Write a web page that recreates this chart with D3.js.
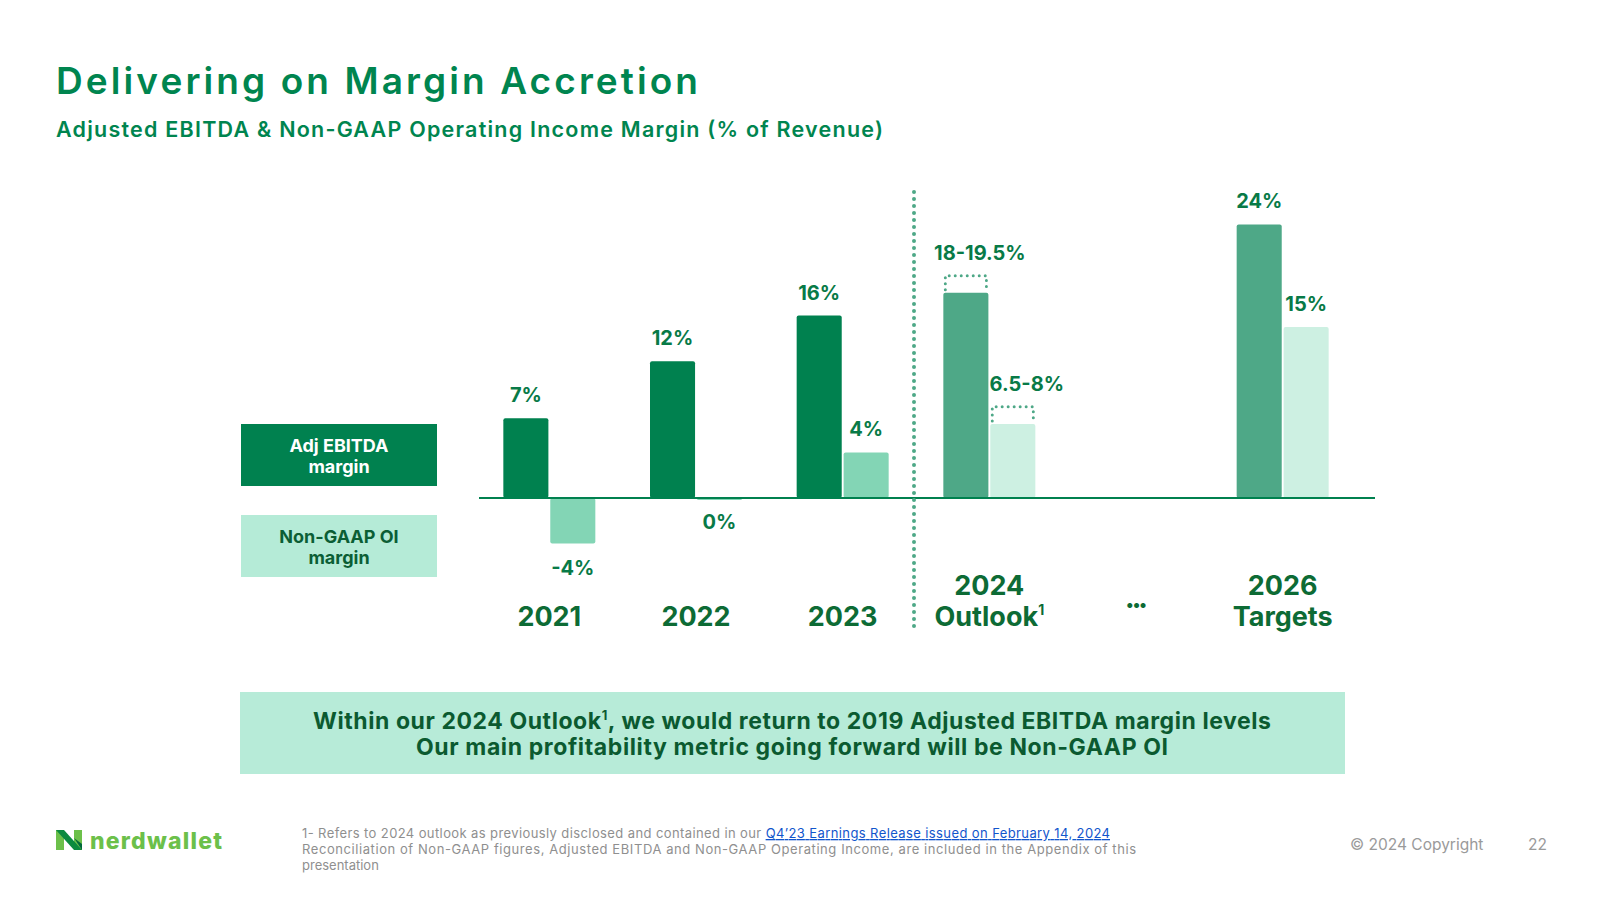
<!DOCTYPE html>
<html>
<head>
<meta charset="utf-8">
<script src="https://cdn.jsdelivr.net/npm/d3@7"></script>
<style>
  body { margin: 0; background: #fff; }
  svg { display: block; font-family: Inter, "Open Sans", sans-serif; }
</style>
</head>
<body>
<svg id="chart" width="1600" height="900"></svg>
<script>
// chart data
const categories = ["2021", "2022", "2023", "2024", "gap", "2026"]
const catLines = [["2021"], ["2022"], ["2023"], ["2024", "Outlook"], ["•••"], ["2026", "Targets"]]
const isOutlook = [false, false, false, true, false, true]
const ebitda = [7, 12, 16, 18, null, 24]
const ebitdaHigh = [null, null, null, 19.5, null, null]
const ebitdaLabels = ["7%", "12%", "16%", "18-19.5%", "", "24%"]
const oi = [-4, 0, 4, 6.5, null, 15]
const oiHigh = [null, null, null, 8, null, null]
const oiLabels = ["-4%", "0%", "4%", "6.5-8%", "", "15%"]
const seriesNames = ["Adj EBITDA margin", "Non-GAAP OI margin"]

const DARK = "#00814f", MINT = "#83d5b5", MID = "#4ea887", PALE = "#cdf0e2"
const LABEL = "#087a47", YEAR = "#0d6b35"

const svg = d3.select("#chart")

// header
svg.append("text").attr("x", 56).attr("y", 94)
    .attr("font-size", 37).attr("font-weight", 600).attr("fill", "#00854f")
    .attr("textLength", 642).attr("lengthAdjust", "spacing")
    .text("Delivering on Margin Accretion")
svg.append("text").attr("x", 56).attr("y", 137)
    .attr("font-size", 21.5).attr("font-weight", 600).attr("fill", "#00854f")
    .attr("textLength", 827).attr("lengthAdjust", "spacing")
    .text("Adjusted EBITDA & Non-GAAP Operating Income Margin (% of Revenue)")

// scales
const x0 = d3.scaleBand().domain(categories).range([476, 1356])
const y = d3.scaleLinear().domain([-5, 25]).range([555, 213])

// rows: one per bar
const rows = []
categories.forEach((c, i) => {
    if (ebitda[i] === null) return
    const cx = x0(c) + x0.bandwidth() / 2
    const x1 = d3.scaleBand().domain(seriesNames).range([cx - 46, cx + 46]).paddingInner(0.04)
    rows.push({ cat: c, x: x1(seriesNames[0]), w: x1.bandwidth(), v: ebitda[i], hi: ebitdaHigh[i],
        label: ebitdaLabels[i], fill: isOutlook[i] ? MID : DARK })
    rows.push({ cat: c, x: x1(seriesNames[1]), w: x1.bandwidth(), v: oi[i], hi: oiHigh[i],
        label: oiLabels[i], fill: isOutlook[i] ? PALE : MINT })
})

// bars
svg.append("g").selectAll("rect")
    .data(rows)
    .enter().append("rect")
    .attr("x", d => d.x)
    .attr("y", d => Math.min(y(d.v), y(0)))
    .attr("width", d => d.w)
    .attr("height", d => Math.max(2, Math.abs(y(d.v) - y(0))))
    .attr("rx", 2)
    .attr("fill", d => d.fill)

// dotted range boxes
svg.append("g").selectAll("path")
    .data(rows.filter(d => d.hi !== null))
    .enter().append("path")
    .attr("d", d => `M${d.x + 2},${y(d.v) - 3}V${y(d.hi)}H${d.x + d.w - 2}V${y(d.v) - 3}`)
    .attr("fill", "none")
    .attr("stroke", MID)
    .attr("stroke-width", 3)
    .attr("stroke-linecap", "round")
    .attr("stroke-dasharray", "0 6")

// baseline
svg.append("line")
    .attr("x1", 479).attr("x2", 1375)
    .attr("y1", y(0)).attr("y2", y(0))
    .attr("stroke", DARK).attr("stroke-width", 2)

// value labels
svg.append("g").selectAll("text")
    .data(rows)
    .enter().append("text")
    .attr("x", d => d.x + d.w / 2 + (d.hi !== null ? 14 : 0))
    .attr("y", d => d.v > 0 ? y(d.hi !== null ? d.hi : d.v) - 16 : y(Math.min(d.v, 0)) + 31)
    .attr("text-anchor", "middle")
    .attr("font-size", 20).attr("font-weight", 700).attr("fill", LABEL)
    .text(d => d.label)

// separator between actuals and outlook
svg.append("line")
    .attr("x1", x0("2024") - 2).attr("x2", x0("2024") - 2)
    .attr("y1", 192).attr("y2", 633)
    .attr("stroke", MID).attr("stroke-width", 4)
    .attr("stroke-linecap", "round")
    .attr("stroke-dasharray", "0 7")

// category labels, last line on a common baseline
const cat = svg.append("g").selectAll("text")
    .data(categories)
    .enter().append("text")
    .attr("text-anchor", "middle")
    .attr("font-size", 27).attr("font-weight", 700).attr("fill", YEAR)
cat.each(function (c, i) {
    const lines = catLines[i]
    const t = d3.select(this)
    const cx = x0(c) + x0.bandwidth() / 2
    lines.forEach((ln, k) => {
        const ts = t.append("tspan").attr("x", cx)
            .attr("y", c === "gap" ? 610 : 626 - (lines.length - 1 - k) * 31)
            .text(ln)
        if (c === "gap") ts.attr("font-size", 16).attr("letter-spacing", -1)
        if (ln === "Outlook") t.append("tspan").attr("font-size", 14).attr("dy", -11).text("1")
    })
})

// legend
const legend = [
    { name: ["Adj EBITDA", "margin"], fill: DARK, color: "#fff", y: 424 },
    { name: ["Non-GAAP OI", "margin"], fill: "#b5ebd7", color: "#0b5e35", y: 515 }
]
const lg = svg.append("g").selectAll("g").data(legend).enter().append("g")
lg.append("rect").attr("x", 241).attr("y", d => d.y).attr("width", 196).attr("height", 62)
    .attr("fill", d => d.fill)
lg.append("text").attr("text-anchor", "middle").attr("font-size", 18).attr("font-weight", 700)
    .attr("fill", d => d.color)
    .selectAll("tspan").data(d => d.name.map((n, k) => ({ n, k, y: d.y })))
    .enter().append("tspan").attr("x", 339).attr("y", d => d.y + 28 + d.k * 21).text(d => d.n)

// callout
svg.append("rect").attr("x", 240).attr("y", 692).attr("width", 1105).attr("height", 82)
    .attr("fill", "#b7ebd8")
const c1 = svg.append("text").attr("x", 313).attr("y", 729)
    .attr("font-size", 23).attr("font-weight", 700).attr("fill", "#0b5a30")
    .attr("textLength", 958).attr("lengthAdjust", "spacing")
c1.append("tspan").text("Within our 2024 Outlook")
c1.append("tspan").attr("font-size", 13).attr("dy", -9).text("1")
c1.append("tspan").attr("dy", 9).text(", we would return to 2019 Adjusted EBITDA margin levels")
svg.append("text").attr("x", 416).attr("y", 755)
    .attr("font-size", 23).attr("font-weight", 700).attr("fill", "#0b5a30")
    .attr("textLength", 752).attr("lengthAdjust", "spacing")
    .text("Our main profitability metric going forward will be Non-GAAP OI")

// footer logo
const logo = svg.append("g")
logo.append("rect").attr("x", 56).attr("y", 830).attr("width", 8).attr("height", 20).attr("fill", "#6cc04a")
logo.append("rect").attr("x", 74).attr("y", 830).attr("width", 8).attr("height", 20).attr("fill", "#6cc04a")
logo.append("path").attr("d", "M56,830H64L82,850H74Z").attr("fill", "#0b8a3e")
logo.append("path").attr("d", "M74,838L82,844V850Z").attr("fill", "#00683a")
logo.append("text").attr("x", 90).attr("y", 849).attr("font-size", 23).attr("font-weight", 800)
    .attr("fill", "#6cc04a").attr("textLength", 132).attr("lengthAdjust", "spacing")
    .text("nerdwallet")

// footnotes
const fn = svg.append("g").attr("font-size", 13).attr("fill", "#8f8f8f")
const f1 = fn.append("text").attr("x", 302).attr("y", 838)
    .attr("textLength", 808).attr("lengthAdjust", "spacing")
f1.append("tspan").text("1- Refers to 2024 outlook as previously disclosed and contained in our ")
f1.append("tspan").attr("fill", "#1155cc").attr("text-decoration", "underline")
    .text("Q4’23 Earnings Release issued on February 14, 2024")
fn.append("text").attr("x", 302).attr("y", 854)
    .attr("textLength", 834).attr("lengthAdjust", "spacing")
    .text("Reconciliation of Non-GAAP figures, Adjusted EBITDA and Non-GAAP Operating Income, are included in the Appendix of this")
fn.append("text").attr("x", 302).attr("y", 870).text("presentation")

svg.append("text").attr("x", 1350).attr("y", 850).attr("font-size", 15.5).attr("fill", "#9a9a9a")
    .text("© 2024 Copyright")
svg.append("text").attr("x", 1528).attr("y", 850).attr("font-size", 15.5).attr("fill", "#9a9a9a")
    .text("22")
</script>
</body>
</html>
